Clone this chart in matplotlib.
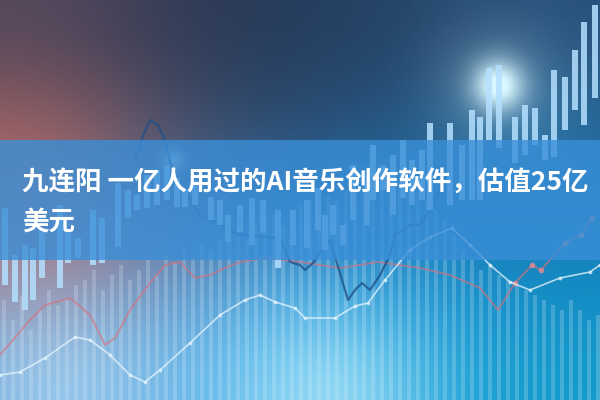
import numpy as np
import matplotlib
matplotlib.use("Agg")
import matplotlib.pyplot as plt

plt.rcParams['font.family'] = ['Noto Sans CJK SC', 'DejaVu Sans']

# title text
title_line1 = "九连阳 一亿人用过的AI音乐创作软件，估值25亿"
title_line2 = "美元"

# candlesticks (pixel-like coordinates, y grows downward)
candle_x = [5, 15, 25, 33, 42, 60, 68, 78, 93, 102, 118, 128, 137, 147, 157, 167, 177, 185, 195,
            211, 220, 228, 240, 252, 263, 278, 293, 307, 318, 325, 333, 343, 353, 367, 373, 383,
            393, 403, 412, 422, 430, 450, 462, 472, 480, 489, 499, 515, 525, 535, 545, 554, 565,
            575, 584, 595]
candle_top = [208, 255, 245, 248, 230, 205, 230, 238, 210, 218, 183, 190, 195, 175, 170, 165, 178, 190, 180,
              197, 200, 215, 205, 198, 200, 210, 210, 200, 188, 215, 205, 225, 165, 170, 145, 165,
              155, 140, 160, 150, 123, 123, 145, 110, 117, 68, 65, 117, 105, 108, 135, 70, 77,
              50, 22, 5]
candle_bottom = [285, 302, 310, 300, 278, 288, 263, 258, 265, 263, 247, 218, 210, 208, 205, 200, 207, 207, 205,
                 220, 225, 242, 232, 245, 233, 268, 245, 248, 230, 250, 235, 245, 220, 225, 200, 190,
                 215, 198, 205, 200, 210, 205, 200, 200, 200, 140, 148, 163, 155, 145, 160, 157, 130,
                 110, 125, 98]

# volume-like thin bars
vol_x = list(range(4, 600, 9))
vol_top = [300, 320, 295, 330, 310, 290, 305, 300, 285, 280, 270, 290, 275, 265, 280, 270,
           260, 275, 255, 262, 250, 258, 245, 250, 240, 235, 230, 238, 225, 220, 215, 225,
           210, 205, 200, 210, 195, 200, 190, 195, 185, 190, 182, 188, 180, 185, 190, 200,
           210, 220, 235, 250, 260, 270, 265, 275, 280, 285, 290, 295, 300, 305, 310, 300,
           310, 320, 315]

# line series
white_x = [0, 20, 45, 75, 90, 110, 130, 145, 160, 190, 220, 245, 260, 275, 295, 305, 335, 355,
           368, 385, 410, 430, 452, 470, 490, 510, 530, 560, 590, 600]
white_y = [375, 372, 358, 337, 340, 355, 375, 382, 370, 343, 315, 300, 295, 302, 308, 318, 318, 306,
           303, 280, 250, 237, 228, 245, 265, 282, 290, 278, 272, 265]

red_x = [0, 30, 45, 70, 90, 105, 115, 130, 150, 165, 180, 195, 210, 225, 240, 265, 300, 340,
         378, 420, 450, 480, 498, 515, 532, 541, 565, 581, 592]
red_y = [355, 320, 305, 298, 315, 345, 338, 310, 283, 265, 262, 278, 275, 268, 262, 258, 262, 268,
         262, 268, 275, 288, 310, 283, 265, 270, 243, 235, 218]

dark_x = [135, 142, 150, 158, 165, 172, 200, 240, 280, 290, 300, 305, 313, 320, 330, 348, 355,
          362, 370, 380, 390, 395, 410, 420, 430, 440]
dark_y = [160, 138, 120, 125, 140, 170, 215, 235, 238, 262, 265, 270, 263, 252, 240, 300, 290,
          283, 290, 275, 255, 235, 225, 225, 210, 190]

fig = plt.figure(figsize=(6, 4), dpi=100)
ax = fig.add_axes([0, 0, 1, 1])
ax.set_xlim(0, 600)
ax.set_ylim(400, 0)
ax.axis('off')

# background gradient
bg = np.array([
    [[85, 72, 92], [48, 58, 84], [36, 60, 92], [38, 72, 108], [40, 82, 124]],
    [[180, 105, 100], [70, 85, 115], [40, 82, 124], [38, 98, 146], [36, 112, 164]],
    [[175, 125, 135], [95, 135, 185], [45, 140, 210], [30, 135, 200], [20, 128, 188]],
    [[120, 175, 225], [110, 185, 235], [55, 180, 235], [30, 165, 220], [20, 155, 205]],
]) / 255.0
ax.imshow(bg, extent=(0, 600, 400, 0), aspect='auto', interpolation='bicubic', zorder=0)

# soft glows
gy_grid, gx_grid = np.mgrid[0:400, 0:600]
glow = np.zeros((400, 600, 4))
glow[..., :3] = [0.85, 0.97, 1.0]
alpha = np.zeros((400, 600))
for (cx, cy, r, a) in [(498, 85, 18, 0.85), (498, 85, 45, 0.25), (330, 400, 70, 0.55),
                       (60, 385, 60, 0.3), (173, 160, 8, 0.6)]:
    alpha += a * np.exp(-((gx_grid - cx) ** 2 + (gy_grid - cy) ** 2) / (2 * r ** 2))
glow[..., 3] = np.clip(alpha, 0, 1)
ax.imshow(glow, extent=(0, 600, 400, 0), aspect='auto', zorder=1)

ax.bar(vol_x, [400 - t for t in vol_top], bottom=vol_top, width=3.2, color='#e6f4ff',
       alpha=0.22, zorder=2)

ax.plot(red_x, red_y, color='#d9707a', lw=1.3, alpha=0.65, zorder=3)
ax.plot(red_x[-6:], red_y[-6:], 'o', color='#e08a95', ms=3, alpha=0.8, zorder=3)
ax.plot(white_x, white_y, color='#e8f6ff', lw=1.2, alpha=0.75, zorder=3)
ax.plot(white_x, white_y, 'o', color='#e8f6ff', ms=1.8, alpha=0.6, zorder=3)
ax.plot(dark_x, dark_y, color='#1e4f86', lw=1.6, alpha=0.75, zorder=3)

heights = [b - t for t, b in zip(candle_top, candle_bottom)]
ax.bar(candle_x, heights, bottom=candle_top, width=6, color='#b4e0ff', alpha=0.85, zorder=4)

# blue banner
ax.axhspan(140, 260, color='#3a8fd8', alpha=0.8, lw=0, zorder=5)

fig.text(22 / 600, 1 - 183 / 400, title_line1, color='white', fontsize=19.1,
         fontweight='bold', ha='left', va='center', zorder=6)
fig.text(22 / 600, 1 - 222 / 400, title_line2, color='white', fontsize=19.1,
         fontweight='bold', ha='left', va='center', zorder=6)

fig.savefig('out.png', dpi=100)
